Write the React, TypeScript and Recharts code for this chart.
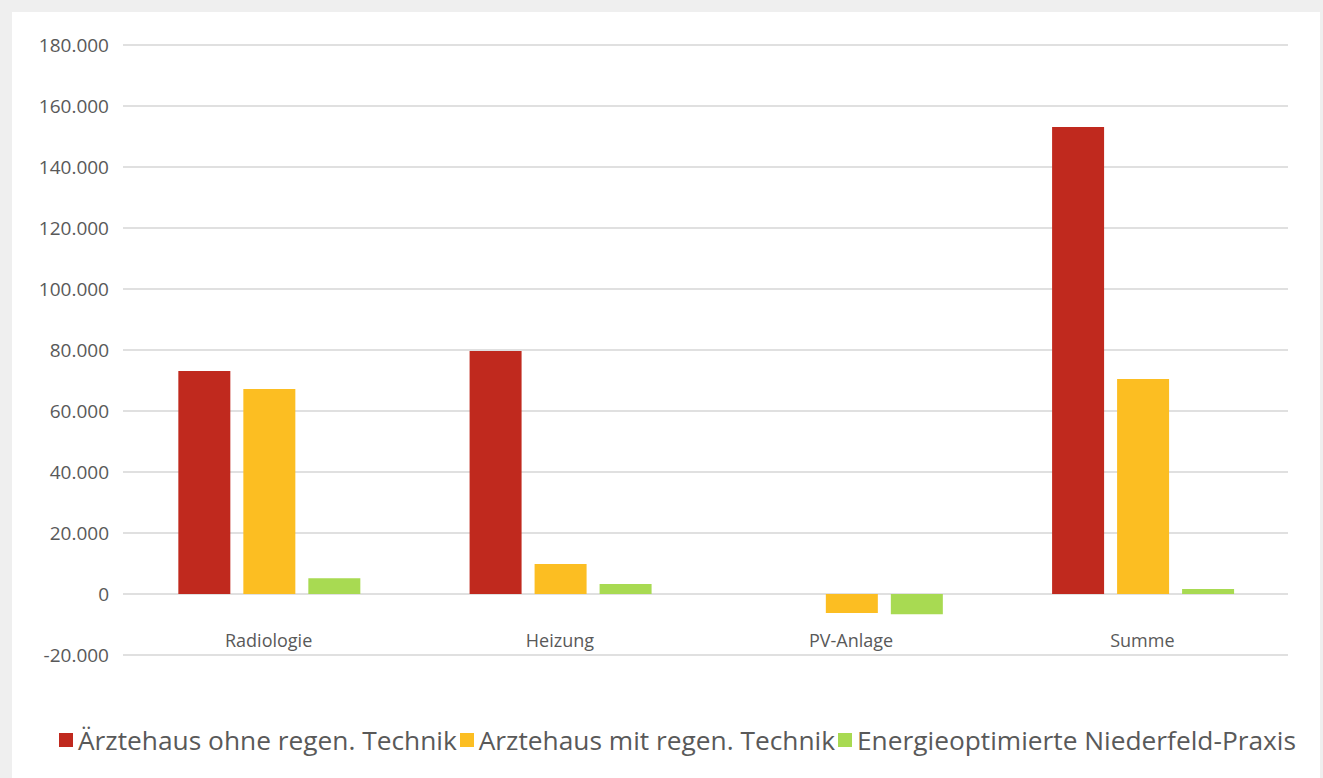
import React from "react";
import {
  BarChart,
  Bar,
  XAxis,
  YAxis,
  CartesianGrid,
  Legend,
} from "recharts";

const categories = ["Radiologie", "Heizung", "PV-Anlage", "Summe"];
const ohneRegen = [73100, 79700, 0, 153100];
const mitRegen = [67200, 9800, -6200, 70500];
const niederfeld = [5200, 3300, -6600, 1600];
const yTicks = [-20000, 0, 20000, 40000, 60000, 80000, 100000, 120000, 140000, 160000, 180000];

const SERIES = [
  { key: "ohne", name: "Ärztehaus ohne regen. Technik", color: "#C0291E" },
  { key: "mit", name: "Arztehaus mit regen. Technik", color: "#FCBE22" },
  { key: "nf", name: "Energieoptimierte Niederfeld-Praxis", color: "#A8DA52" },
];

const data = categories.map((name, i) => ({
  name,
  ohne: ohneRegen[i],
  mit: mitRegen[i],
  nf: niederfeld[i],
}));

const FONT = "'Open Sans', sans-serif";
const TEXT = "#595959";

// 180000 -> "180.000"
const fmt = (v: number) => String(v).replace(/\B(?=(\d{3})+(?!\d))/g, ".");

// category labels sit between the zero line and the -20.000 line
const CategoryTick = (props: any) => {
  const { x, y, payload } = props;
  return (
    <text x={x} y={y - 16} textAnchor="middle" fill={TEXT} fontSize={18} fontFamily={FONT}>
      {payload.value}
    </text>
  );
};

const LegendContent = () => (
  <div
    style={{
      display: "flex",
      justifyContent: "center",
      alignItems: "center",
      fontFamily: FONT,
      fontSize: 26.3,
      color: TEXT,
      whiteSpace: "nowrap",
      paddingLeft: 58,
    }}
  >
    {SERIES.map((s) => (
      <span key={s.key} style={{ display: "inline-flex", alignItems: "center", marginRight: 3 }}>
        <span style={{ width: 14, height: 14, background: s.color, display: "inline-block", marginRight: 5 }} />
        {s.name}
      </span>
    ))}
  </div>
);

export default function App() {
  return (
    <div
      style={{
        position: "absolute",
        left: 0,
        top: 0,
        width: 1323,
        height: 778,
        background: "#efefef",
      }}
    >
      <div
        style={{
          position: "absolute",
          left: 12,
          top: 12,
          width: 1308,
          height: 766,
          background: "#ffffff",
        }}
      >
        <BarChart
          width={1308}
          height={766}
          data={data}
          margin={{ top: 33, right: 32, left: 0, bottom: 18 }}
          barCategoryGap="19%"
          barGap={13}
        >
          <CartesianGrid vertical={false} stroke="#d6d6d6" strokeWidth={1.6} />
          <XAxis
            dataKey="name"
            height={67}
            axisLine={false}
            tickLine={false}
            tick={<CategoryTick />}
            interval={0}
          />
          <YAxis
            width={111}
            domain={[-20000, 180000]}
            ticks={yTicks}
            axisLine={false}
            tickLine={false}
            tickSize={0}
            tickMargin={14}
            tickFormatter={fmt}
            tick={{ fill: TEXT, fontSize: 19, fontFamily: FONT }}
          />
          <Legend verticalAlign="bottom" height={38} content={<LegendContent />} />
          {SERIES.map((s) => (
            <Bar key={s.key} dataKey={s.key} name={s.name} fill={s.color} isAnimationActive={false} />
          ))}
        </BarChart>
      </div>
    </div>
  );
}
